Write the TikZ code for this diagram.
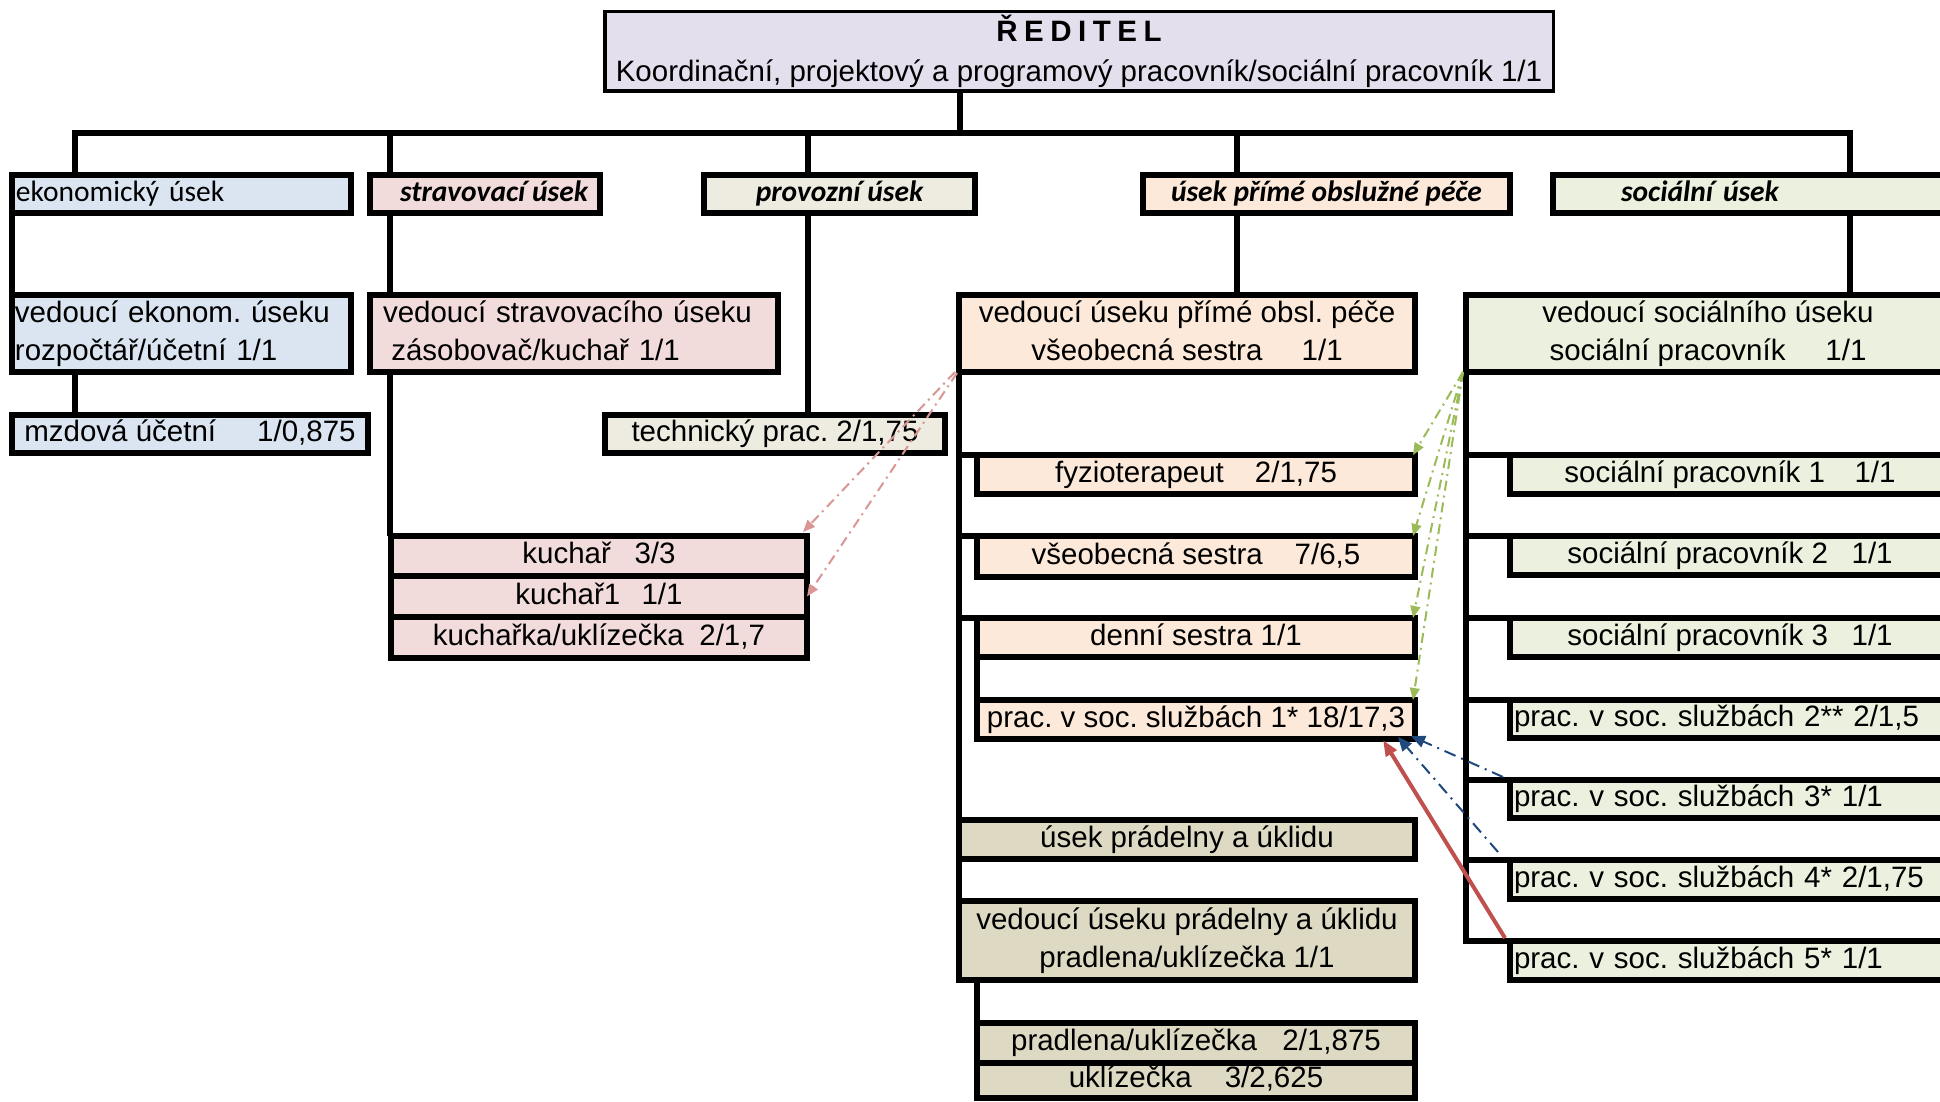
\documentclass[tikz,border=0pt]{standalone}
\usepackage{fontspec}
\setmainfont{Liberation Sans}
\newfontfamily\calfont{Carlito}
\usetikzlibrary{arrows.meta}
\frenchspacing
\definecolor{dirfill}{HTML}{E4DFEC}
\definecolor{ekfill}{HTML}{DBE5F1}
\definecolor{strfill}{HTML}{F2DCDB}
\definecolor{provfill}{HTML}{EEECE1}
\definecolor{primefill}{HTML}{FDE9D9}
\definecolor{socfill}{HTML}{EBF1DE}
\definecolor{pradfill}{HTML}{DDD9C3}
\definecolor{arrpink}{HTML}{D99694}
\definecolor{arrgreen}{HTML}{9BBB59}
\definecolor{arrblue}{HTML}{1F497D}
\definecolor{arrred}{HTML}{C0504D}
\newcommand\hstrut{\rule[-0.23em]{0pt}{0.98em}}
\newcommand\bxc[7]{%
  \pgfmathsetmacro\bw{(#4-#2-6)*0.5}%
  \pgfmathsetmacro\bh{(#5-#3-6)*0.5}%
  \node[box,#6,minimum width=\bw pt,minimum height=\bh pt,align=center] (#1) at ({(#2+#4)/2},{(#3+#5)/2}) {#7};}
\newcommand\bxl[8]{%
  \pgfmathsetmacro\bw{(#4-#2-6)*0.5}%
  \pgfmathsetmacro\bh{(#5-#3-6)*0.5}%
  \pgfmathsetmacro\tw{\bw-#7}%
  \node[box,#6,minimum width=\bw pt,minimum height=\bh pt,text width=\tw pt,align=left] (#1) at ({(#2+#4)/2},{(#3+#5)/2}) {#8};}
\begin{document}
\begin{tikzpicture}[x=0.5pt,y=-0.5pt,
  box/.style={draw=black,line width=3pt,inner sep=0pt,outer sep=0pt,font=\fontsize{14.75pt}{19pt}\selectfont\frenchspacing},
  hdr/.style={font=\fontsize{14.75pt}{19pt}\selectfont\calfont\bfseries\itshape},
  conn/.style={draw=black,line width=3pt,line join=miter},
  darr/.style={line width=1pt,dash pattern=on 5pt off 2.5pt on 1pt off 2.5pt},
  pinkarr/.style={darr,draw=arrpink,-{Triangle[length=6pt,width=5pt]}},
  greenarr/.style={darr,draw=arrgreen,-{Triangle[length=6pt,width=5pt]}},
  bluearr/.style={line width=1pt,dash pattern=on 6pt off 3pt on 1pt off 3pt,draw=arrblue,-{Triangle[length=7pt,width=6pt]}},
  redarr/.style={line width=2pt,draw=arrred,-{Triangle[length=8pt,width=6pt]}}]
\useasboundingbox (0,0) rectangle (1940,1102);
\clip (0,0) rectangle (1940,1102);

% director
\node[box,line width=1.75pt,fill=dirfill,minimum width=474.25pt,minimum height=39.75pt,align=center,font=\fontsize{14.75pt}{20pt}\selectfont\frenchspacing] (dir) at (1079,51.5)
 {{\fontsize{14.75pt}{20pt}\selectfont\bfseries\rule[-3pt]{0pt}{14.4pt}Ř\hspace{3.25pt}E\hspace{3.25pt}D\hspace{3.25pt}I\hspace{3.25pt}T\hspace{3.25pt}E\hspace{3.25pt}L}\\\hstrut Koordinační, projektový a programový pracovník/sociální pracovník 1/1};

% section headers
\bxl{ek}{9}{172}{354}{216}{fill=ekfill,font=\fontsize{14.75pt}{19pt}\selectfont\calfont}{4}{\hstrut ekonomický úsek}
\bxc{str}{367}{172}{603}{216}{fill=strfill,hdr}{\hstrut\hspace*{9pt}stravovací úsek}
\bxc{prov}{701}{172}{978}{216}{fill=provfill,hdr}{\hstrut provozní úsek}
\bxc{prime}{1140}{172}{1513}{216}{fill=primefill,hdr}{\hstrut úsek přímé obslužné péče}
\bxl{soc}{1550}{172}{1953}{216}{fill=socfill,hdr}{68}{\hstrut sociální úsek}

% leaders
\bxl{vek}{9}{292}{354}{375}{fill=ekfill}{3}{\hstrut vedoucí ekonom. úseku\\\hstrut rozpočtář/účetní 1/1}
\bxl{vstr}{367}{292}{781}{375}{fill=strfill}{13}{\hstrut vedoucí stravovacího úseku\\\hstrut\hspace*{0.28em}zásobovač/kuchař 1/1}
\bxc{vprime}{956}{292}{1418}{375}{fill=primefill}{\hstrut vedoucí úseku přímé obsl. péče\\\hstrut všeobecná sestra\hspace{1.33em}1/1}
\bxc{vsoc}{1463}{292}{1953}{375}{fill=socfill}{\hstrut vedoucí sociálního úseku\\\hstrut sociální pracovník\hspace{1.35em}1/1}

% staff
\bxc{mzd}{9}{412}{371}{456}{fill=ekfill}{\hstrut mzdová účetní\hspace{1.39em}1/0,875}
\bxc{tech}{602}{412}{948}{456}{fill=provfill}{\hstrut technický prac. 2/1,75}
\bxc{kuch}{388}{533}{810}{579}{fill=strfill}{\hstrut kuchař\hspace{0.8em}3/3}
\bxc{kuch1}{388}{573}{810}{620}{fill=strfill}{\hstrut kuchař1\hspace{0.72em}1/1}
\bxc{kuchu}{388}{614}{810}{661}{fill=strfill}{\hstrut kuchařka/uklízečka\hspace{0.53em}2/1,7}

\bxc{fyz}{974}{452}{1418}{497}{fill=primefill}{\hstrut fyzioterapeut\hspace{1.05em}2/1,75}
\bxc{vseob}{974}{533}{1418}{580}{fill=primefill}{\hstrut všeobecná sestra\hspace{1.08em}7/6,5}
\bxc{denni}{974}{615}{1418}{660}{fill=primefill}{\hstrut denní sestra 1/1}
\bxc{pr1}{974}{697}{1418}{742}{fill=primefill}{\hstrut prac. v soc. službách 1* 18/17,3}
\bxc{upr}{956}{817}{1418}{862}{fill=pradfill}{\hstrut úsek prádelny a úklidu}
\bxc{vprad}{956}{898}{1418}{983}{fill=pradfill}{\hstrut vedoucí úseku prádelny a úklidu\\\hstrut pradlena/uklízečka 1/1}
\bxc{prd}{974}{1019.5}{1418}{1065.5}{fill=pradfill}{\hstrut pradlena/uklízečka\hspace{0.86em}2/1,875}
\bxc{ukl}{974}{1059.5}{1418}{1101}{fill=pradfill}{\hstrut uklízečka\hspace{1.12em}3/2,625}

\bxc{s1}{1507}{452}{1953}{497}{fill=socfill}{\hstrut sociální pracovník 1\hspace{1.0em}1/1}
\bxc{s2}{1507}{533}{1953}{578}{fill=socfill}{\hstrut sociální pracovník 2\hspace{0.8em}1/1}
\bxc{s3}{1507}{615}{1953}{660}{fill=socfill}{\hstrut sociální pracovník 3\hspace{0.8em}1/1}
\bxl{p2}{1507}{697}{1953}{741}{fill=socfill}{4}{\hstrut prac. v soc. službách 2** 2/1,5}
\bxl{p3}{1507}{777}{1953}{821}{fill=socfill}{4}{\hstrut prac. v soc. službách 3* 1/1}
\bxl{p4}{1507}{857}{1953}{902}{fill=socfill}{4}{\hstrut prac. v soc. službách 4* 2/1,75}
\bxl{p5}{1507}{938}{1953}{983}{fill=socfill}{4}{\hstrut prac. v soc. službách 5* 1/1}

% connectors
\coordinate (dirx) at (960,133);
\coordinate (ekx) at (75,133);
\coordinate (strx) at (390,133);
\coordinate (provx) at (808,133);
\coordinate (primex) at (1237,133);
\coordinate (socx) at (1850,133);
\draw[conn] (dir.south -| dirx) -- (dirx);
\draw[conn] (ekx |- ek.north) -- (ekx) -- (socx) -- (socx |- soc.north);
\draw[conn] (strx) -- (strx |- str.north);
\draw[conn] (provx) -- (provx |- prov.north);
\draw[conn] (primex) -- (primex |- prime.north);
\draw[conn] (ek.south west) -- (vek.north west);
\draw[conn] (ekx |- vek.south) -- (ekx |- mzd.north);
\draw[conn] (strx |- str.south) -- (strx |- vstr.north);
\draw[conn] (strx |- vstr.south) -- (strx |- kuch.north);
\draw[conn] (provx |- prov.south) -- (provx |- tech.north);
\draw[conn] (primex |- prime.south) -- (primex |- vprime.north);
\draw[conn] (socx |- soc.south) -- (socx |- vsoc.north);
\draw[conn] (vprime.south west) -- (vprad.north west);
\foreach \n in {fyz,vseob,denni}
  \draw[conn] (vprime.south west |- \n.north) -- (\n.north west);
\draw[conn] (denni.south west) -- (pr1.north west);
\draw[conn] (prd.north west |- vprad.south) -- (prd.north west);
\draw[conn] (vsoc.south west) -- (vsoc.south west |- p5.north) -- (p5.north west);
\foreach \n in {s1,s2,s3,p2,p3,p4}
  \draw[conn] (vsoc.south west |- \n.north) -- (\n.north west);

% arrows
\draw[pinkarr] ([shift={(-2pt,0pt)}]vprime.south west) -- ([shift={(-2pt,2pt)}]kuch.north east);
\draw[pinkarr] ([shift={(-1pt,-0.5pt)}]vprime.south west) -- (kuch1.east);
\foreach \n in {fyz,vseob,denni,pr1}
  \draw[greenarr] ([xshift=-1.5pt]vsoc.south west) -- ([xshift=-1pt]\n.north east);
\draw[bluearr] ([shift={(-3.5pt,1.5pt)}]p3.north west) -- ([shift={(-2pt,1.5pt)}]pr1.south east);
\draw[bluearr] ([shift={(-6pt,4pt)}]p4.north west) -- ([shift={(-8.5pt,1pt)}]pr1.south east);
\draw[redarr] ([shift={(-2.5pt,1.5pt)}]p5.north west) -- ([shift={(-16pt,-0.5pt)}]pr1.south east);
\end{tikzpicture}
\end{document}
